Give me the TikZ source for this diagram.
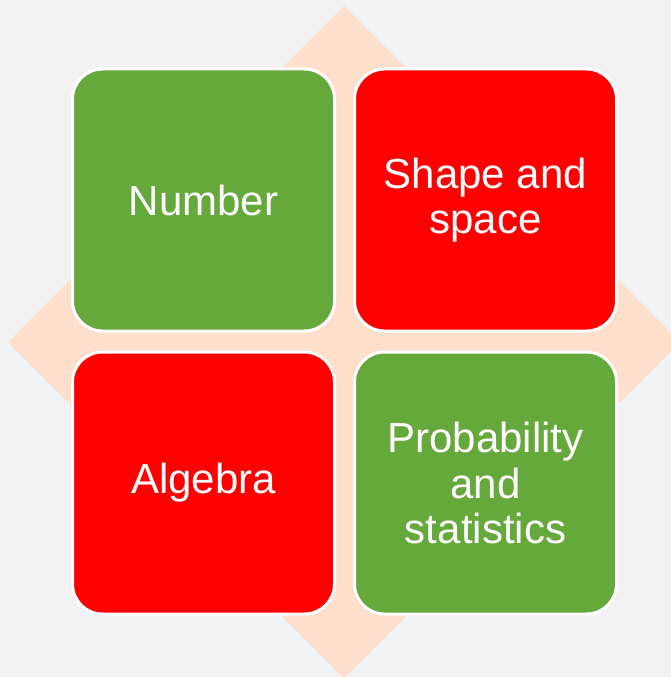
\documentclass[tikz,border=0pt]{standalone}
\usepackage{fontspec}
\setmainfont{Liberation Sans}
\definecolor{bggray}{HTML}{F2F2F2}
\definecolor{peach}{HTML}{FDDFCC}
\definecolor{tilegreen}{HTML}{65A83C}
\definecolor{tilered}{HTML}{FF0000}
\begin{document}
\begin{tikzpicture}[x=1pt,y=-1pt,
  tile/.style={rectangle, rounded corners=30pt, draw=white, line width=3pt,
    minimum width=262pt, minimum height=262pt, inner sep=0pt,
    text=white, align=center, font=\fontsize{42}{45.5}\selectfont}]
\useasboundingbox (0,0) rectangle (671,677);
\fill[bggray] (0,0) rectangle (671,677);
\begin{scope}
\clip (0,0) rectangle (671,677);
\fill[peach] (344,6) -- (680,342) -- (344,678) -- (8,342) -- cycle;
\end{scope}
\node[tile, fill=tilegreen] (number) at (203.5,200) {Number};
\node[tile, fill=tilered] (shape) at (485.5,200) {Shape and\\space};
\node[tile, fill=tilered] (algebra) at (203.5,483) {Algebra};
\node[tile, fill=tilegreen] (prob) at (485.5,483) {Probability\\and\\statistics};
\end{tikzpicture}
\end{document}
